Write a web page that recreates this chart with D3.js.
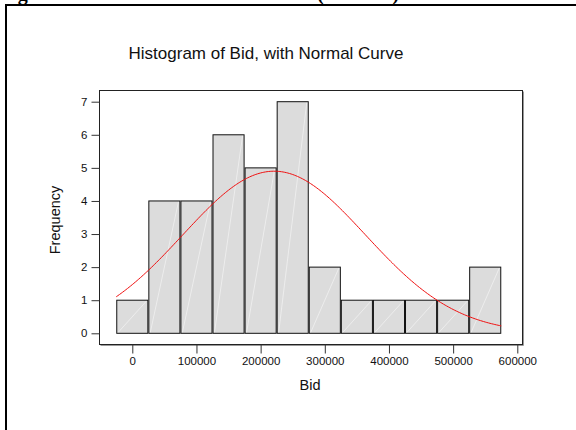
<!DOCTYPE html>
<html>
<head>
  <meta charset="utf-8">
  <title>Histogram of Bid, with Normal Curve</title>
  <script src="https://d3js.org/d3.v7.min.js"></script>
  <style>
    body { margin: 0; background: #fff; font-family: "Liberation Sans", Arial, sans-serif; }
    svg { display: block; }
  </style>
</head>
<body>
  <div id="chart"></div>
  <script>
    // Bin edges (lower bound of each bin) and counts
    const binStarts = [-25000, 25000, 75000, 125000, 175000, 225000, 275000, 325000, 375000, 425000, 475000, 525000];
    const binWidth = 50000;
    const counts = [1, 4, 4, 6, 5, 7, 2, 1, 1, 1, 1, 2];
    const xTicks = [0, 100000, 200000, 300000, 400000, 500000, 600000];
    const yTicks = [0, 1, 2, 3, 4, 5, 6, 7];
    // Fitted normal curve parameters (estimated from the drawn curve)
    const bidMean = 221000;
    const bidSd = 142500;

    const width = 576, height = 430;
    const svg = d3.select("#chart").append("svg")
      .attr("width", width).attr("height", height);

    // caption of the page above, cut off by the window: only descenders show
    const capStyle = t => t
      .style("font-family", "'Liberation Serif', 'Times New Roman', serif")
      .style("font-weight", "bold").style("font-size", "20px");
    svg.append("text").attr("x", 0).attr("y", -0.5)
      .call(capStyle).text("Figure 1: Bid Distribution");
    svg.append("text").attr("x", 317).attr("y", -0.5)
      .call(capStyle).text("(Minitab)");

    svg.append("rect")
      .attr("x", 6).attr("y", 5).attr("width", 600).attr("height", 460)
      .attr("fill", "none").attr("stroke", "#000").attr("stroke-width", 2);

    const frame = { x0: 99.5, y0: 90.5, x1: 522.5, y1: 344.5 };

    const x = d3.scaleLinear().domain([0, 600000]).range([132.3, 517.3]);
    const y = d3.scaleLinear().domain([0, 7]).range([333.3, 101.7]);

    // frame with a soft shadow on the right and bottom
    svg.append("path")
      .attr("d", `M${frame.x1 + 1},${frame.y0 + 1}V${frame.y1 + 1}H${frame.x0 + 1}`)
      .attr("fill", "none").attr("stroke", "#999");
    svg.append("rect")
      .attr("x", frame.x0).attr("y", frame.y0)
      .attr("width", frame.x1 - frame.x0).attr("height", frame.y1 - frame.y0)
      .attr("fill", "none").attr("stroke", "#222");

    svg.append("text")
      .attr("x", 266).attr("y", 59)
      .attr("text-anchor", "middle")
      .style("font-size", "17px").attr("fill", "#111")
      .text("Histogram of Bid, with Normal Curve");

    // bars
    const bins = binStarts.map((s, i) => ({ x0: s, x1: s + binWidth, n: counts[i] }));
    const bar = svg.append("g").selectAll("g").data(bins).join("g");
    bar.append("rect")
      .attr("x", d => x(d.x0) + 0.5)
      .attr("y", d => y(d.n))
      .attr("width", d => x(d.x1) - x(d.x0) - 1)
      .attr("height", d => y(0) - y(d.n))
      .attr("fill", "#dcdcdc")
      .attr("stroke", "#111").attr("stroke-width", 1);
    bar.append("line")
      .attr("x1", d => x(d.x0) + 2).attr("y1", d => y(0) - 1)
      .attr("x2", d => x(d.x1) - 2).attr("y2", d => y(d.n) + 1)
      .attr("stroke", "#fff").attr("stroke-opacity", 0.6).attr("stroke-width", 0.8);

    // normal curve scaled to counts
    const total = d3.sum(counts);
    const dens = v => total * binWidth / (bidSd * Math.sqrt(2 * Math.PI)) *
      Math.exp(-0.5 * Math.pow((v - bidMean) / bidSd, 2));
    const xs = d3.range(binStarts[0], binStarts[binStarts.length - 1] + binWidth + 1, 2500);
    svg.append("path")
      .datum(xs)
      .attr("d", d3.line().x(v => x(v)).y(v => y(dens(v))))
      .attr("fill", "none").attr("stroke", "#f01010").attr("stroke-width", 1);

    // axes
    const yAxis = svg.append("g")
      .attr("transform", `translate(${frame.x0},0)`)
      .call(d3.axisLeft(y).tickValues(yTicks).tickFormat(d3.format("d")).tickSize(8).tickPadding(4));
    const xAxis = svg.append("g")
      .attr("transform", `translate(0,${frame.y1})`)
      .call(d3.axisBottom(x).tickValues(xTicks).tickFormat(d3.format("d")).tickSize(9).tickPadding(3));
    [xAxis, yAxis].forEach(a => {
      a.select(".domain").remove();
      a.selectAll(".tick line").attr("stroke", "#333");
      a.selectAll(".tick text")
        .style("font-family", "'Liberation Sans', Arial, sans-serif")
        .style("font-size", "11.5px").attr("fill", "#111");
    });

    svg.append("text")
      .attr("x", 310).attr("y", 390)
      .attr("text-anchor", "middle")
      .style("font-size", "14.5px").attr("fill", "#111")
      .text("Bid");
    svg.append("text")
      .attr("transform", "translate(60,220) rotate(-90)")
      .attr("text-anchor", "middle")
      .style("font-size", "14.5px").attr("fill", "#111")
      .text("Frequency");
  </script>
</body>
</html>
